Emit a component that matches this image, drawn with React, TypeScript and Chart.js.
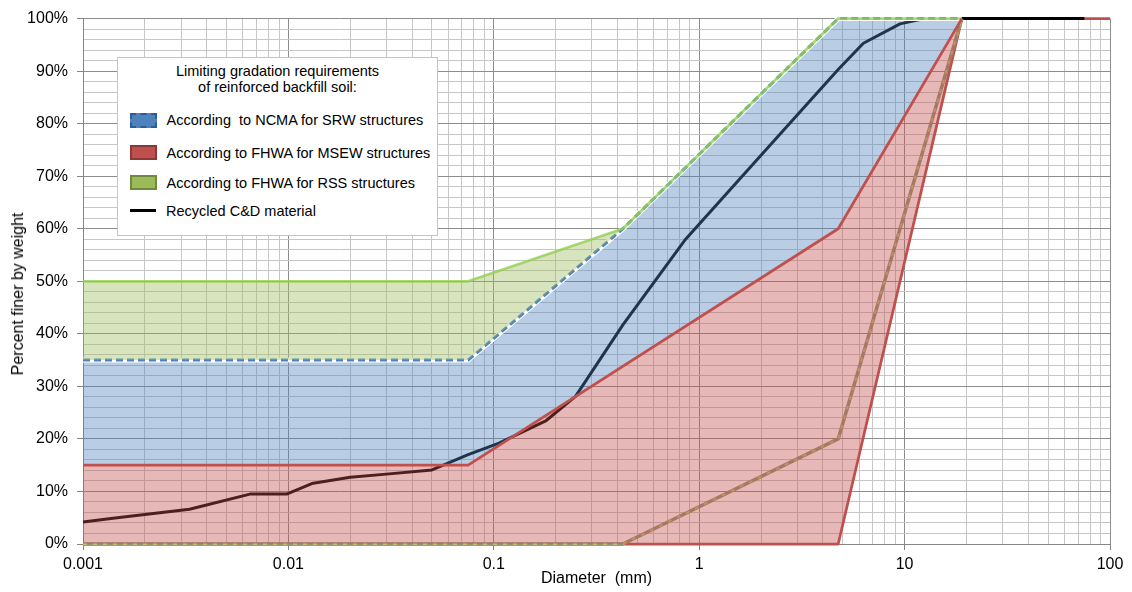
import { useEffect, useRef } from 'react';
import { Chart, registerables } from 'chart.js';

Chart.register(...registerables);

// Recycled C&D material: sieve / hydrometer diameter (mm) and percent passing
const cdDiameters = [0.001, 0.0014, 0.0033, 0.0065, 0.0098, 0.013, 0.02, 0.03, 0.05, 0.075, 0.106, 0.18, 0.25, 0.425, 0.85, 2, 4.75, 6.3, 9.5, 12.5, 19, 25, 37.5, 50, 75];
const cdPassing = [4.2, 4.9, 6.6, 9.5, 9.5, 11.5, 12.7, 13.3, 14.1, 17, 19.2, 23.5, 28.1, 41.7, 57.8, 74, 90.3, 95.3, 99, 100, 100, 100, 100, 100, 100];

// NCMA upper limit for SRW structures
const srwUpperDiameters = [0.001, 0.075, 0.425, 4.75, 19];
const srwUpperPassing = [35, 35, 60, 100, 100];

// FHWA limits for MSEW structures
const msewUpperDiameters = [0.001, 0.075, 4.75, 19];
const msewUpperPassing = [15, 15, 60, 100];
const msewLowerDiameters = [0.001, 4.75, 19, 100];
const msewLowerPassing = [0, 0, 100, 100];

// FHWA limits for RSS structures
const rssUpperDiameters = [0.001, 0.075, 0.425, 4.75, 19];
const rssUpperPassing = [50, 50, 60, 100, 100];
const rssLowerDiameters = [0.001, 0.425, 4.75, 19];
const rssLowerPassing = [0, 0, 20, 100];

// Axis ticks
const xDecades = [0.001, 0.01, 0.1, 1, 10, 100];
const xDecadeLabels = ['0.001', '0.01', '0.1', '1', '10', '100'];
const yMajorValues = [0, 10, 20, 30, 40, 50, 60, 70, 80, 90, 100];
const yMajorLabels = ['0%', '10%', '20%', '30%', '40%', '50%', '60%', '70%', '80%', '90%', '100%'];

// Axis titles and legend text
const xTitle = 'Diameter  (mm)';
const yTitle = 'Percent finer by weight';
const legendTitle = ['Limiting gradation requirements', 'of reinforced backfill soil:'];
const seriesNames = [
  'According  to NCMA for SRW structures',
  'According to FHWA for MSEW structures',
  'According to FHWA for RSS structures',
  'Recycled C&D material',
];

const FONT = "'Liberation Sans', Arial, Helvetica, sans-serif";
const GRID_MINOR = '#C6C6C6';
const GRID_MAJOR = '#8C8C8C';
const AXIS_LINE = '#868686';

const RED = '#C0504D';
const BLUE = '#4F81BD';
const GREEN_LINE = 'rgba(146, 208, 80, 0.8)';
const RED_FILL = 'rgba(192, 80, 77, 0.4)';
const BLUE_FILL = 'rgba(79, 129, 189, 0.4)';
const GREEN_FILL = 'rgba(155, 187, 89, 0.4)';

const toPoints = (xs: number[], ys: number[]) => xs.map((x, i) => ({ x, y: ys[i] }));

// minor log grid: 1..9 within every decade
const xGridValues: number[] = [];
for (let d = 0; d < xDecades.length - 1; d++) {
  for (let m = 1; m <= 9; m++) xGridValues.push(Number((m * xDecades[d]).toPrecision(6)));
}
xGridValues.push(xDecades[xDecades.length - 1]);

const decadeIndex = (v: number) => xDecades.findIndex((d) => Math.abs(d - v) / d < 1e-6);

function buildDatasets() {
  const base = {
    pointRadius: 0,
    pointHoverRadius: 0,
    tension: 0,
    clip: false as const,
    fill: false as any,
    borderJoinStyle: 'round' as const,
  };
  // indices used as fill targets
  // 0 black, 1 MSEW lower line, 2 MSEW upper line, 3/4 RSS lower line,
  // 5 MSEW band fill, 6 SRW band fill + white halo, 7 SRW dashed line, 8 RSS upper line + band fill
  return [
    {
      ...base,
      label: seriesNames[3],
      data: toPoints(cdDiameters, cdPassing),
      borderColor: '#000000',
      borderWidth: 3,
      order: 11,
    },
    {
      ...base,
      label: 'MSEW lower',
      data: toPoints(msewLowerDiameters, msewLowerPassing),
      borderColor: RED,
      borderWidth: 2.75,
      order: 12,
    },
    {
      ...base,
      label: 'MSEW upper',
      data: toPoints(msewUpperDiameters, msewUpperPassing),
      borderColor: RED,
      borderWidth: 2.75,
      order: 4,
    },
    {
      ...base,
      label: 'RSS lower',
      data: toPoints(rssLowerDiameters, rssLowerPassing),
      borderColor: '#8E9574',
      borderWidth: 3.5,
      order: 10,
    },
    {
      ...base,
      label: 'RSS lower dash',
      data: toPoints(rssLowerDiameters, rssLowerPassing),
      borderColor: '#D2B46C',
      borderWidth: 2,
      borderDash: [4, 6],
      order: 9,
    },
    {
      ...base,
      label: seriesNames[1],
      data: toPoints(msewLowerDiameters, msewLowerPassing),
      borderColor: 'rgba(0,0,0,0)',
      borderWidth: 0,
      backgroundColor: RED_FILL,
      fill: 2,
      order: 8,
    },
    {
      ...base,
      label: seriesNames[0],
      data: toPoints(srwUpperDiameters, srwUpperPassing),
      borderColor: '#FFFFFF',
      borderWidth: 5,
      backgroundColor: BLUE_FILL,
      fill: 2,
      order: 7,
    },
    {
      ...base,
      label: 'SRW upper',
      data: toPoints(srwUpperDiameters, srwUpperPassing),
      borderColor: BLUE,
      borderWidth: 3,
      borderDash: [7, 4],
      borderCapStyle: 'butt' as const,
      order: 6,
    },
    {
      ...base,
      label: seriesNames[2],
      data: toPoints(rssUpperDiameters, rssUpperPassing),
      borderColor: GREEN_LINE,
      borderWidth: 2.75,
      backgroundColor: GREEN_FILL,
      fill: 7,
      order: 5,
    },
  ];
}

const tickFont = { family: FONT, size: 16 };

function GradationChart() {
  const ref = useRef<HTMLCanvasElement>(null);

  useEffect(() => {
    if (!ref.current) return;
    const chart = new Chart(ref.current, {
      type: 'line',
      data: { datasets: buildDatasets() as any },
      options: {
        animation: false,
        responsive: true,
        maintainAspectRatio: false,
        devicePixelRatio: 1,
        events: [],
        layout: { padding: { top: 17, right: 22, bottom: 0, left: 0 } },
        plugins: {
          legend: { display: false },
          tooltip: { enabled: false },
          filler: { drawTime: 'beforeDatasetDraw', propagate: false },
        },
        scales: {
          x: {
            type: 'logarithmic',
            min: 0.001,
            max: 100,
            afterBuildTicks: (scale: any) => {
              scale.ticks = xGridValues.map((value) => ({ value }));
            },
            afterFit: (scale: any) => {
              scale.height = 48;
            },
            ticks: {
              autoSkip: false,
              maxRotation: 0,
              minRotation: 0,
              padding: 5,
              color: '#000000',
              font: tickFont,
              callback: (value: any) => {
                const i = decadeIndex(Number(value));
                return i >= 0 ? xDecadeLabels[i] : '';
              },
            },
            grid: {
              lineWidth: 1,
              tickLength: 6,
              color: (c: any) => (c.tick && decadeIndex(c.tick.value) >= 0 ? GRID_MAJOR : GRID_MINOR),
              tickColor: (c: any) => (c.tick && decadeIndex(c.tick.value) >= 0 ? AXIS_LINE : 'rgba(0,0,0,0)'),
            },
            border: { color: AXIS_LINE, width: 1 },
            title: {
              display: true,
              text: xTitle,
              color: '#000000',
              font: { family: FONT, size: 16 },
              padding: { top: 0, bottom: 4 },
            },
          },
          y: {
            type: 'linear',
            min: 0,
            max: 100,
            afterFit: (scale: any) => {
              scale.width = 83;
            },
            ticks: {
              stepSize: 2,
              autoSkip: false,
              padding: 9,
              color: '#000000',
              font: tickFont,
              callback: (value: any) => {
                const i = yMajorValues.indexOf(Number(value));
                return i >= 0 ? yMajorLabels[i] : '';
              },
            },
            grid: {
              lineWidth: 1,
              tickLength: 6,
              color: (c: any) => (c.tick && c.tick.value % 10 === 0 ? GRID_MAJOR : GRID_MINOR),
              tickColor: (c: any) => (c.tick && c.tick.value % 10 === 0 ? AXIS_LINE : 'rgba(0,0,0,0)'),
            },
            border: { color: AXIS_LINE, width: 1 },
            title: { display: false },
          },
        },
      } as any,
    });
    return () => chart.destroy();
  }, []);

  return <canvas ref={ref} />;
}

const swatchBase = {
  width: 27,
  height: 15,
  boxSizing: 'border-box' as const,
  flex: '0 0 auto',
};

const legendRows = [
  { text: seriesNames[0], center: 62, swatch: { ...swatchBase, background: BLUE, border: '2px dashed #2D5D97' } },
  { text: seriesNames[1], center: 94.5, swatch: { ...swatchBase, background: RED, border: '2px solid #8C3836' } },
  { text: seriesNames[2], center: 124.5, swatch: { ...swatchBase, background: '#9BBB59', border: '2px solid #71893F' } },
  { text: seriesNames[3], center: 152.5, swatch: { width: 26, height: 3, background: '#000', flex: '0 0 auto', marginLeft: 0.5 } },
];

function GradationLegend() {
  return (
    <div
      style={{
        position: 'absolute',
        left: 117,
        top: 57,
        width: 321,
        height: 179,
        boxSizing: 'border-box',
        border: '1px solid #C4C4C4',
        background: '#FFFFFF',
        fontFamily: FONT,
        fontSize: 14.5,
        color: '#000000',
      }}
    >
      <div style={{ position: 'absolute', left: 0, right: 0, top: 6, textAlign: 'center', lineHeight: '15.6px' }}>
        {legendTitle.map((t) => (
          <div key={t}>{t}</div>
        ))}
      </div>
      {legendRows.map((row) => (
        <div
          key={row.text}
          style={{
            position: 'absolute',
            left: 11.5,
            top: row.center - 10,
            height: 20,
            display: 'flex',
            alignItems: 'center',
            whiteSpace: 'pre',
          }}
        >
          <div style={row.swatch as any} />
          <span style={{ marginLeft: 10, lineHeight: '20px' }}>{row.text}</span>
        </div>
      ))}
    </div>
  );
}

function YAxisTitle() {
  return (
    <div
      style={{
        position: 'absolute',
        left: 18,
        top: 294,
        transform: 'translate(-50%, -50%) rotate(-90deg)',
        whiteSpace: 'nowrap',
        fontFamily: FONT,
        fontSize: 16,
        lineHeight: '18px',
        color: '#000000',
      }}
    >
      {yTitle}
    </div>
  );
}

export default function App() {
  return (
    <div style={{ position: 'fixed', left: 0, top: 0, width: 1132, height: 592, background: '#FFFFFF' }}>
      <GradationChart />
      <YAxisTitle />
      <GradationLegend />
    </div>
  );
}
